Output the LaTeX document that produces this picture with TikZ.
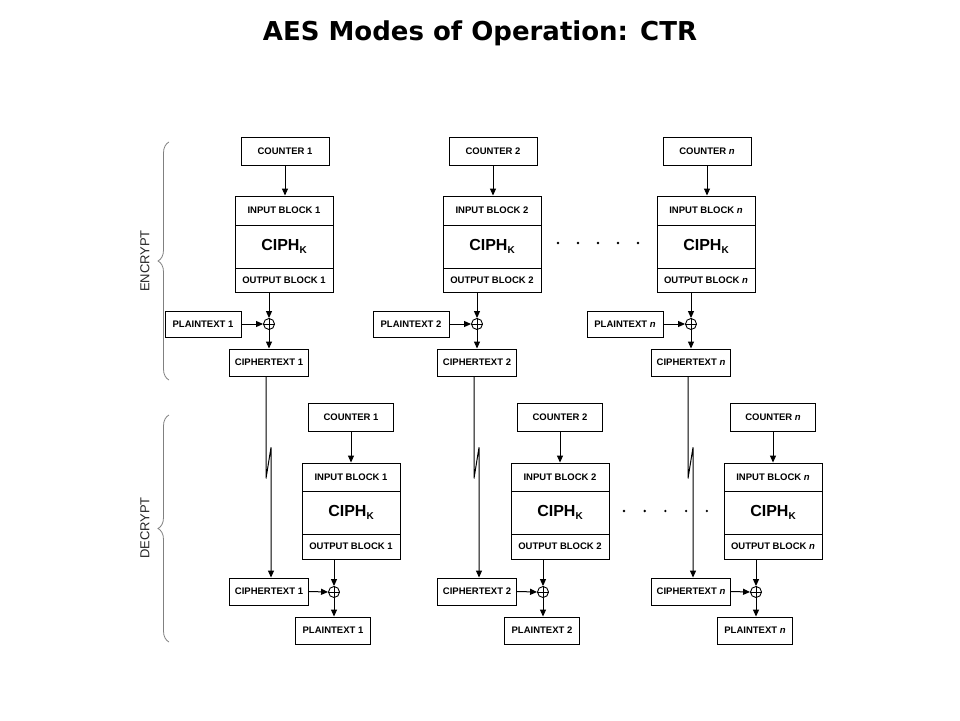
\documentclass[tikz,border=0pt]{standalone}
\usepackage{fontspec}
\setsansfont{Liberation Sans}
\newfontfamily\titlefont{DejaVu Sans}
\usetikzlibrary{arrows.meta, positioning, decorations.pathreplacing}

\tikzset{
  box/.style={draw, line width=0.9pt, inner sep=0pt, font=\sffamily\bfseries\fontsize{9.5}{11}\selectfont},
  blk/.style={box, minimum width=98pt},
  ciph/.style={blk, minimum height=43pt, font=\sffamily\bfseries\fontsize{16}{18}\selectfont},
  arr/.style={line width=1pt, -{Triangle[length=7pt,width=6pt]}},
  xorop/.style={draw, circle, line width=0.9pt, minimum size=11pt, inner sep=0pt},
  side/.style={black!50, line width=0.8pt, decorate, decoration={brace, amplitude=11pt}},
  sidelbl/.style={rotate=90, text=black!85, font=\sffamily\fontsize{13}{15}\selectfont},
}
\newcommand{\ciphk}{CIPH\raisebox{-0.45ex}{\fontsize{10}{10}\selectfont K}}

\begin{document}
\begin{tikzpicture}[x=1pt, y=-1pt]
\useasboundingbox (0,0) rectangle (960,720);
\node[font=\titlefont\bfseries\fontsize{26}{30}\selectfont] (title) at (480,33) {AES Modes of Operation: CTR};

% Side braces
\draw[side] (169,380) -- (169,142);
\node[sidelbl] (enc) at (145,261) {ENCRYPT};
\draw[side] (169,642) -- (169,415);
\node[sidelbl] (dec) at (145,528) {DECRYPT};

% One column per counter: encrypt on top, decrypt below
\foreach \i/\t/\c/\d in {1/1/284/351, 2/2/492/560, n/{\textit{n}}/706/773} {
  % encrypt
  \node[box, minimum width=88pt, minimum height=28pt] (cnt\i) at (\c+1,151) {COUNTER \t};
  \node[blk, minimum height=29pt] (ib\i) at (\c,210.5) {INPUT BLOCK \t};
  \node[ciph] (ck\i) at (\c,246.5) {\ciphk};
  \node[blk, minimum height=24pt] (ob\i) at (\c,280) {OUTPUT BLOCK \t};
  \node[xorop] (x\i) at (\c-15,324) {};
  \node[box, minimum width=76pt, minimum height=26pt] (pt\i) at (\c-81,324) {PLAINTEXT \t};
  \node[box, minimum width=79pt, minimum height=27pt] (ct\i) at (\c-15,362.5) {CIPHERTEXT \t};
  \draw[line width=0.9pt] (x\i.north) -- (x\i.south) (x\i.west) -- (x\i.east);
  \draw[arr] (cnt\i.south) -- (cnt\i.south |- ib\i.north);
  \draw[arr] (x\i |- ob\i.south) -- (x\i.north);
  \draw[arr] (pt\i.east) -- (x\i.west);
  \draw[arr] (x\i.south) -- (ct\i.north);

  % decrypt
  \node[box, minimum width=85pt, minimum height=28pt] (dcnt\i) at (\d,417.5) {COUNTER \t};
  \node[blk, minimum height=28pt] (dib\i) at (\d,477) {INPUT BLOCK \t};
  \node[ciph] (dck\i) at (\d,512.5) {\ciphk};
  \node[blk, minimum height=25pt] (dob\i) at (\d,546.5) {OUTPUT BLOCK \t};
  \node[xorop] (dx\i) at (\d-17,592) {};
  \node[box, minimum width=79pt, minimum height=27pt] (dct\i) at (\c-15,591.5) {CIPHERTEXT \t};
  \node[box, minimum width=75pt, minimum height=27pt] (dpt\i) at (\d-18,630.5) {PLAINTEXT \t};
  \draw[line width=0.9pt] (dx\i.north) -- (dx\i.south) (dx\i.west) -- (dx\i.east);
  \draw[arr] (dcnt\i.south) -- (dcnt\i.south |- dib\i.north);
  \draw[arr] (dx\i |- dob\i.south) -- (dx\i.north);
  \draw[arr] (dct\i.east) -- (dx\i.west);
  \draw[arr] (dx\i.south) -- (dx\i.south |- dpt\i.north);

  % transmitted ciphertext, with the break mark
  \draw[arr] ([xshift=-3pt]ct\i.south) -- ++(0,102) -- ++(5,-31) coordinate (z\i) -- (z\i |- dct\i.north);
}

% Dots between columns 2 and n
\foreach \k in {0,...,4} {
  \fill (558+20*\k,243) circle (1.3pt);
  \fill (624+20.7*\k,511) circle (1.3pt);
}
\end{tikzpicture}
\end{document}
